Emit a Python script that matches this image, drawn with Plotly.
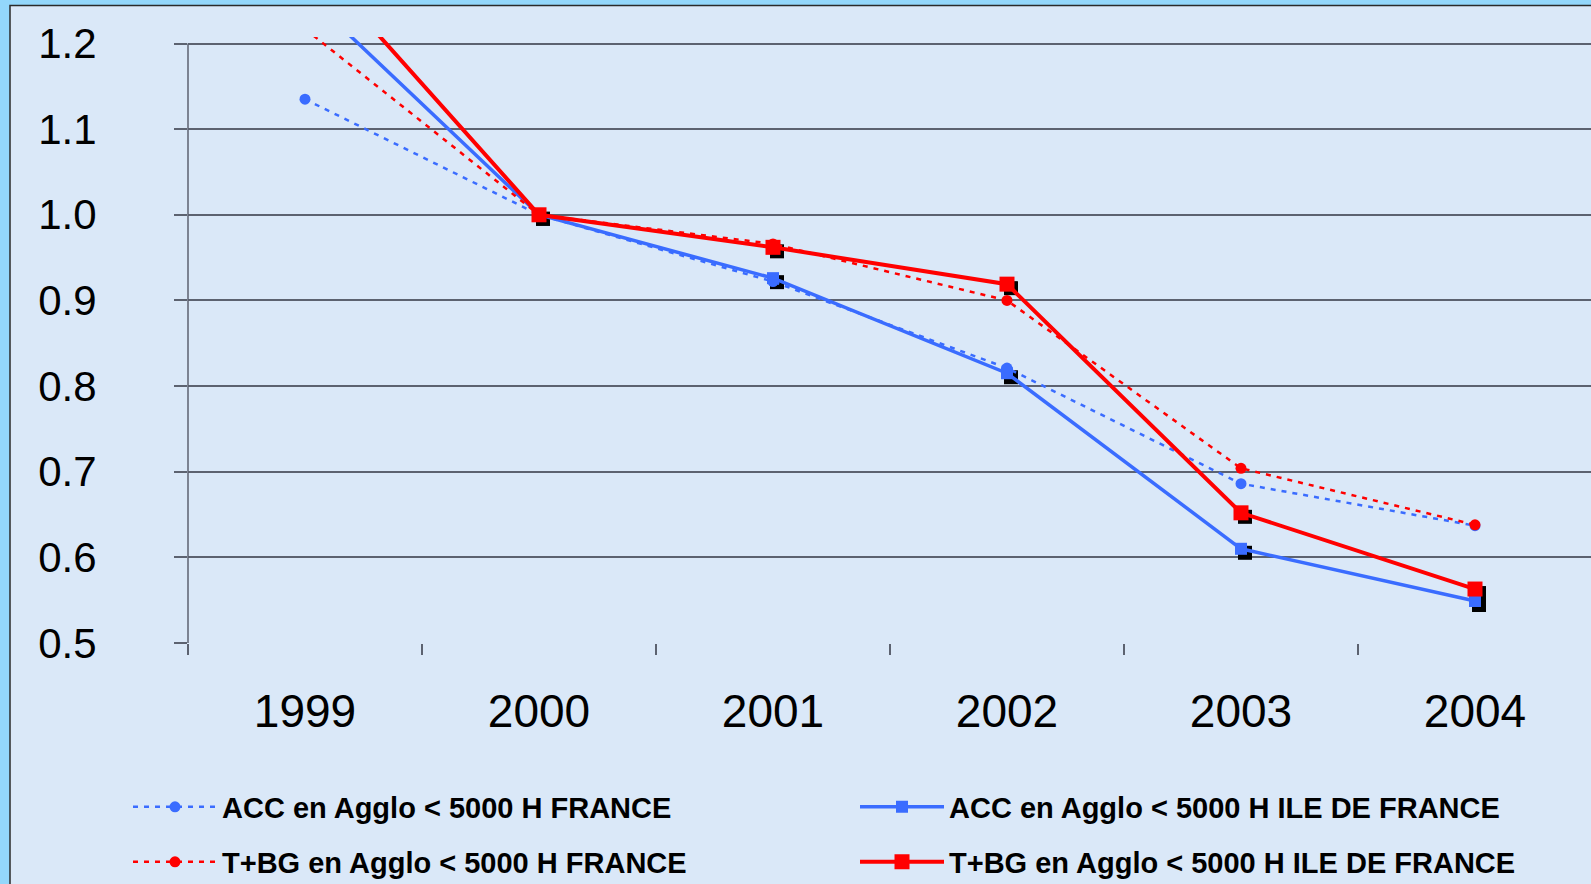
import plotly.graph_objects as go

# data
years = ["1999", "2000", "2001", "2002", "2003", "2004"]
acc_france = [1.135, 1.0, 0.922, 0.821, 0.686, 0.637]
acc_idf = [1.259, 1.0, 0.926, 0.815, 0.610, 0.549]
tbg_france = [1.217, 1.0, 0.966, 0.900, 0.704, 0.638]
tbg_idf = [1.306, 1.0, 0.962, 0.919, 0.652, 0.563]

names = [
    "ACC en Agglo < 5000 H FRANCE",
    "ACC en Agglo < 5000 H ILE DE FRANCE",
    "T+BG en Agglo < 5000 H FRANCE",
    "T+BG en Agglo < 5000 H ILE DE FRANCE",
]

y_ticks = [0.5, 0.6, 0.7, 0.8, 0.9, 1.0, 1.1, 1.2]
y_ticktext = ["0.5", "0.6", "0.7", "0.8", "0.9", "1.0", "1.1", "1.2"]

BLUE = "#3a6cff"
RED = "#ff0000"
GRID = "#5c6270"
FONT = "Liberation Sans, Arial, sans-serif"

W, H = 1591, 884
L, R, T, B = 188, 0, 37, 241
PW, PH = W - L - R, H - T - B
CAT_W = 234.0
X_RANGE = [-0.5, -0.5 + PW / CAT_W]
Y_RANGE = [0.5, 1.2 + 6.5 / 857]


def px_x(px):
    return (px - L) / PW


def px_y(py):
    return (H - B - py) / PH


fig = go.Figure()

# drop shadows of square markers (on a hidden, slightly shifted axis pair)
for vals in [acc_idf, tbg_idf]:
    fig.add_trace(
        go.Scatter(
            x=years, y=vals, mode="markers", xaxis="x", yaxis="y",
            marker=dict(symbol="square", size=14, color="black"),
            showlegend=False, hoverinfo="skip",
        )
    )

dot_dash = "5px,6px"
fig.add_trace(go.Scatter(
    x=years, y=acc_idf, name=names[1], mode="lines+markers",
    xaxis="x2", yaxis="y2", legend="legend", legendrank=2,
    line=dict(color=BLUE, width=3.5),
    marker=dict(symbol="square", size=12, color=BLUE),
))
fig.add_trace(go.Scatter(
    x=years, y=acc_france, name=names[0], mode="lines+markers",
    xaxis="x2", yaxis="y2", legend="legend", legendrank=1,
    line=dict(color=BLUE, width=2.5, dash=dot_dash),
    marker=dict(symbol="circle", size=11, color=BLUE),
))
fig.add_trace(go.Scatter(
    x=years, y=tbg_france, name=names[2], mode="lines+markers",
    xaxis="x2", yaxis="y2", legend="legend2", legendrank=1,
    line=dict(color=RED, width=2.5, dash=dot_dash),
    marker=dict(symbol="circle", size=11, color=RED),
))
fig.add_trace(go.Scatter(
    x=years, y=tbg_idf, name=names[3], mode="lines+markers",
    xaxis="x2", yaxis="y2", legend="legend2", legendrank=2,
    line=dict(color=RED, width=4),
    marker=dict(symbol="square", size=15, color=RED),
))

shift_x = 4 / CAT_W
shift_y = 4 / 857
hidden = dict(visible=False, showgrid=False, zeroline=False)
fig.update_layout(
    xaxis=dict(type="category", range=[X_RANGE[0] - shift_x, X_RANGE[1] - shift_x], **hidden),
    yaxis=dict(range=[Y_RANGE[0] + shift_y, Y_RANGE[1] + shift_y], **hidden),
    xaxis2=dict(
        type="category", overlaying="x", anchor="y2", range=X_RANGE,
        showgrid=False, zeroline=False, showline=False,
        ticks="outside", tickson="boundaries", ticklen=11, tickwidth=1.5, tickcolor=GRID,
        tickfont=dict(family=FONT, size=46, color="black"),
        ticklabelstandoff=37,
    ),
    yaxis2=dict(
        overlaying="y", anchor="x2", range=Y_RANGE,
        tickvals=y_ticks, ticktext=y_ticktext,
        showgrid=True, gridcolor=GRID, gridwidth=1.5, zeroline=False, showline=False,
        ticks="outside", ticklen=13, tickwidth=1.5, tickcolor=GRID,
        tickfont=dict(family=FONT, size=42, color="black"),
        ticklabelstandoff=69,
    ),
)

# y axis line from the lowest to the highest tick
fig.add_shape(type="line", xref="x2 domain", yref="y2", x0=0, x1=0,
              y0=min(y_ticks), y1=max(y_ticks), line=dict(color=GRID, width=1.5))

# frame around the slide: cyan strips on the top and left, dark edge
fig.add_shape(type="rect", xref="paper", yref="paper", layer="below",
              x0=px_x(-5), x1=px_x(W + 5), y0=px_y(H + 5), y1=px_y(-5),
              fillcolor="#93d7fb", line=dict(width=0))
fig.add_shape(type="rect", xref="paper", yref="paper", layer="below",
              x0=px_x(10), x1=px_x(W + 20), y0=px_y(H + 20), y1=px_y(5.5),
              fillcolor="#dae8f8", line=dict(color="#2a2a2a", width=1.5))

legend_style = dict(
    orientation="h", xanchor="left", yanchor="middle",
    font=dict(family=FONT, size=29, color="black", weight="bold"),
    bgcolor="rgba(0,0,0,0)", entrywidth=628, entrywidthmode="pixels",
    itemwidth=84, traceorder="normal",
)
fig.update_layout(
    width=W, height=H,
    margin=dict(l=L, r=R, t=T, b=B, autoexpand=False),
    paper_bgcolor="#dae8f8",
    plot_bgcolor="rgba(0,0,0,0)",
    legend=dict(x=px_x(128), y=px_y(807), **legend_style),
    legend2=dict(x=px_x(128), y=px_y(862), **legend_style),
    showlegend=True,
)

# the page body has a default 8px margin; drop it so the figure fills the window
fig.write_html(
    "out.html",
    config={"displayModeBar": False},
    post_script="document.body.style.margin='0';document.body.style.overflow='hidden';",
)
